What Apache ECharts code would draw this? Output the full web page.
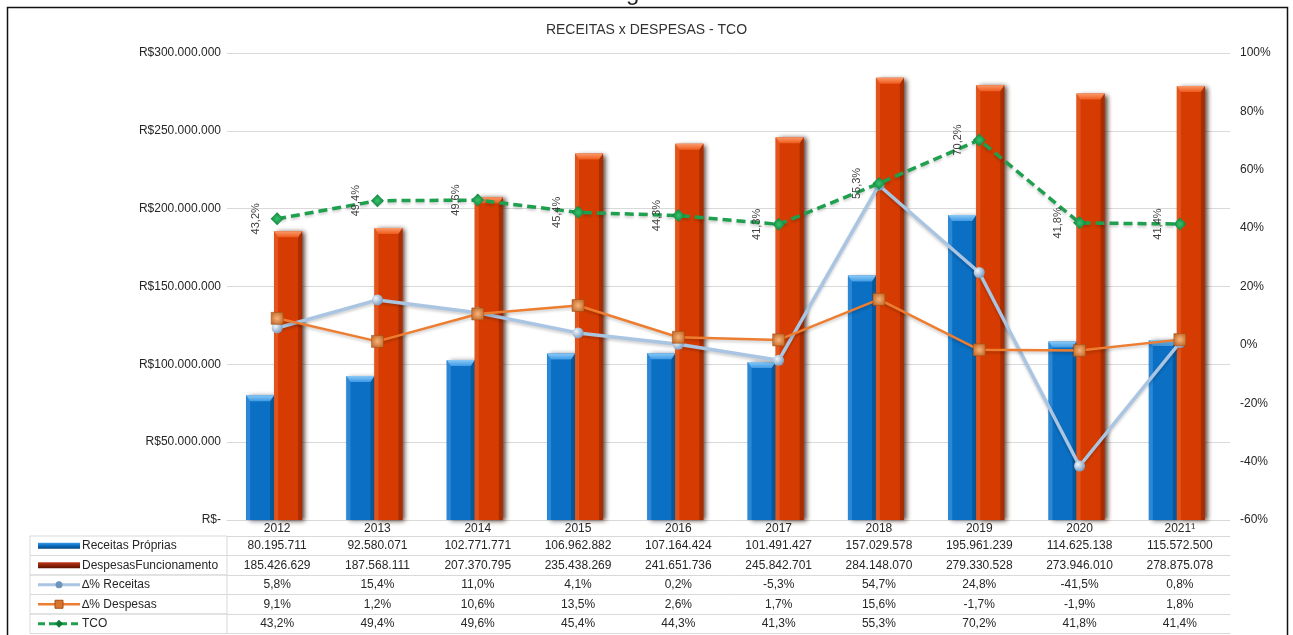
<!DOCTYPE html>
<html>
<head>
<meta charset="utf-8">
<title>Receitas x Despesas - TCO</title>
<script src="https://cdn.jsdelivr.net/npm/echarts@6/dist/echarts.min.js"></script>
<style>
html,body{margin:0;padding:0;background:#fff;}
#main{width:1293px;height:635px;}
</style>
</head>
<body>
<div id="main"></div>
<script>
var anos = ['2012', '2013', '2014', '2015', '2016', '2017', '2018', '2019', '2020', '2021\u00b9'];
var receitas = [80195711, 92580071, 102771771, 106962882, 107164424, 101491427, 157029578, 195961239, 114625138, 115572500];
var despesas = [185426629, 187568111, 207370795, 235438269, 241651736, 245842701, 284148070, 279330528, 273946010, 278875078];
var varReceitas = [5.8, 15.4, 11.0, 4.1, 0.2, -5.3, 54.7, 24.8, -41.5, 0.8];
var varDespesas = [9.1, 1.2, 10.6, 13.5, 2.6, 1.7, 15.6, -1.7, -1.9, 1.8];
var tco = [43.2, 49.4, 49.6, 45.4, 44.3, 41.3, 55.3, 70.2, 41.8, 41.4];
var nomes = ['Receitas Próprias', 'DespesasFuncionamento', '\u2206% Receitas', '\u2206% Despesas', 'TCO'];

var fonte = '"Liberation Sans", Arial, sans-serif';
var corTexto = '#262626';
var corGrade = '#d9d9d9';

function fmtNum(v) {
    return String(v).replace(/\B(?=(\d{3})+(?!\d))/g, '.');
}
function fmtPct(v) {
    return v.toFixed(1).replace('.', ',') + '%';
}

var myChart = echarts.init(document.getElementById('main'));

var gLeft = 227, gRight = 63, gTop = 53, gBottom = 115;
var headH = 16, rowH = 19.5;
var baseY = 635 - gBottom;

// linhas da tabela embaixo do gráfico (um eixo de categoria por linha)
var linhas = [
    receitas.map(fmtNum),
    despesas.map(fmtNum),
    varReceitas.map(fmtPct),
    varDespesas.map(fmtPct),
    tco.map(fmtPct)
];

var xAxes = [{
    type: 'category',
    data: anos,
    position: 'bottom',
    axisLine: { onZero: false, lineStyle: { color: corGrade } },
    axisTick: { length: headH, lineStyle: { color: corGrade } },
    axisLabel: { margin: 3, interval: 0, color: corTexto, fontSize: 12, fontFamily: fonte }
}];
linhas.forEach(function (l, i) {
    xAxes.push({
        type: 'category',
        data: l,
        position: 'bottom',
        offset: headH + i * rowH,
        axisLine: { onZero: false, lineStyle: { color: corGrade } },
        axisTick: { length: rowH, lineStyle: { color: corGrade } },
        axisLabel: { margin: 4, interval: 0, color: corTexto, fontSize: 12, fontFamily: fonte }
    });
});
xAxes.push({
    type: 'category',
    data: anos,
    position: 'bottom',
    offset: headH + 5 * rowH,
    axisLine: { onZero: false, lineStyle: { color: corGrade } },
    axisTick: { show: false },
    axisLabel: { show: false }
});

// coluna da esquerda da tabela (legenda)
var graficos = [];
nomes.forEach(function (n, i) {
    var top = baseY + headH + i * rowH;
    graficos.push({
        type: 'rect',
        shape: { x: 30, y: top, width: gLeft - 30, height: rowH },
        style: { fill: 'none', stroke: corGrade, lineWidth: 1 }
    });
    graficos.push({
        type: 'text',
        x: 82, y: top + rowH / 2,
        style: { text: n, fill: corTexto, font: '12px ' + fonte, verticalAlign: 'middle' }
    });
});
function yRow(i) { return baseY + headH + i * rowH + rowH / 2; }
graficos.push(
    { type: 'rect', shape: { x: 38, y: yRow(0) - 3, width: 42, height: 6 },
      style: { fill: new echarts.graphic.LinearGradient(0, 0, 0, 1, [{ offset: 0, color: '#3d9be9' }, { offset: 0.5, color: '#0a6cc0' }, { offset: 1, color: '#06467e' }]) } },
    { type: 'rect', shape: { x: 38, y: yRow(1) - 3, width: 42, height: 6 },
      style: { fill: new echarts.graphic.LinearGradient(0, 0, 0, 1, [{ offset: 0, color: '#c0391b' }, { offset: 0.5, color: '#8e2308' }, { offset: 1, color: '#5a1200' }]) } },
    { type: 'line', shape: { x1: 38, y1: yRow(2), x2: 80, y2: yRow(2) }, style: { stroke: '#a9c5e2', lineWidth: 3 } },
    { type: 'circle', shape: { cx: 59, cy: yRow(2), r: 3.5 }, style: { fill: '#6f93ba' } },
    { type: 'line', shape: { x1: 38, y1: yRow(3), x2: 80, y2: yRow(3) }, style: { stroke: '#ed7d31', lineWidth: 2.5 } },
    { type: 'rect', shape: { x: 55, y: yRow(3) - 4, width: 8, height: 8 }, style: { fill: '#d8762d', stroke: '#a64f10', lineWidth: 1 } },
    { type: 'line', shape: { x1: 38, y1: yRow(4), x2: 80, y2: yRow(4) }, style: { stroke: '#1fa04f', lineWidth: 3, lineDash: [7, 4] } },
    { type: 'polygon', shape: { points: [[59, yRow(4) - 4], [63, yRow(4)], [59, yRow(4) + 4], [55, yRow(4)]] }, style: { fill: '#0b7a37' } },
    // moldura
    { type: 'rect', shape: { x: 7.5, y: 7.5, width: 1280, height: 660 }, style: { fill: 'none', stroke: '#111', lineWidth: 1.5 } },
    // resto do título do documento cortado acima
    { type: 'text', left: 626, top: -19, style: { text: 'g', fill: '#222', font: '24px ' + fonte } }
);

// barra com chanfro (estilo 3D do Excel)
function barra3d(desloc, c) {
    return function (params, api) {
        var i = api.value(0);
        var p = api.coord([i, api.value(1)]);
        var b0 = api.coord([i, 0]);
        var w = 28, e = 4;
        var x = p[0] + desloc, y = p[1], yb = b0[1];
        return {
            type: 'group',
            children: [{
                type: 'rect',
                shape: { x: x, y: y, width: w, height: yb - y },
                style: {
                    fill: c.base,
                    shadowColor: c.sombra, shadowBlur: 5, shadowOffsetX: 3, shadowOffsetY: 1
                }
            }, {
                type: 'polygon',
                shape: { points: [[x, y], [x + e, y + e], [x + e, yb], [x, yb]] },
                style: { fill: c.esq }
            }, {
                type: 'polygon',
                shape: { points: [[x + w, y], [x + w - e, y + e], [x + w - e, yb], [x + w, yb]] },
                style: { fill: c.dir }
            }, {
                type: 'polygon',
                shape: { points: [[x, y], [x + w, y], [x + w - e, y + e + 2], [x + e, y + e + 2]] },
                style: { fill: new echarts.graphic.LinearGradient(0, 0, 0, 1, [{ offset: 0, color: c.topo1 }, { offset: 1, color: c.topo2 }]) }
            }]
        };
    };
}

var corAzul = { base: '#0b6fc3', esq: '#2a88d6', dir: '#075799', topo1: '#8ccaf7', topo2: '#3f9ae4', sombra: 'rgba(10,20,40,0.6)' };
var corVerm = { base: '#d63c01', esq: '#e2541c', dir: '#a82d00', topo1: '#fb9a6a', topo2: '#ee5b1d', sombra: 'rgba(40,10,0,0.8)' };

var option = {
    backgroundColor: '#fff',
    animation: false,
    textStyle: { fontFamily: fonte },
    title: {
        text: 'RECEITAS x DESPESAS - TCO',
        left: 'center',
        top: 18,
        textStyle: { fontWeight: 'normal', fontSize: 14, color: '#333', fontFamily: fonte }
    },
    grid: { left: gLeft, right: gRight, top: gTop, bottom: gBottom },
    xAxis: xAxes,
    yAxis: [{
        type: 'value',
        min: 0, max: 300000000, interval: 50000000,
        axisLine: { show: false },
        axisTick: { show: false },
        splitLine: { lineStyle: { color: corGrade } },
        axisLabel: {
            margin: 6, color: corTexto, fontSize: 12, fontFamily: fonte,
            formatter: function (v) { return v === 0 ? 'R$-' : 'R$' + fmtNum(v); }
        }
    }, {
        type: 'value',
        min: -60, max: 100, interval: 20,
        axisLine: { show: false },
        axisTick: { show: false },
        splitLine: { show: false },
        axisLabel: {
            margin: 10, color: corTexto, fontSize: 12, fontFamily: fonte,
            formatter: '{value}%'
        }
    }],
    series: [{
        name: nomes[0],
        type: 'custom',
        renderItem: barra3d(-31, corAzul),
        data: receitas.map(function (v, i) { return [i, v]; }),
        encode: { x: 0, y: 1 },
        z: 2
    }, {
        name: nomes[1],
        type: 'custom',
        renderItem: barra3d(-3, corVerm),
        data: despesas.map(function (v, i) { return [i, v]; }),
        encode: { x: 0, y: 1 },
        z: 2
    }, {
        name: nomes[2],
        type: 'line',
        yAxisIndex: 1,
        data: varReceitas,
        z: 3,
        symbol: 'circle',
        symbolSize: 11,
        lineStyle: { color: '#a9c5e2', width: 3.5, shadowColor: 'rgba(0,0,0,0.2)', shadowBlur: 3, shadowOffsetY: 2 },
        itemStyle: {
            color: { type: 'radial', x: 0.35, y: 0.35, r: 0.75, colorStops: [{ offset: 0, color: '#f0f5fb' }, { offset: 1, color: '#6f93ba' }] },
            borderWidth: 0
        }
    }, {
        name: nomes[3],
        type: 'line',
        yAxisIndex: 1,
        data: varDespesas,
        z: 4,
        symbol: 'rect',
        symbolSize: 12,
        lineStyle: { color: '#ed7d31', width: 2.5, shadowColor: 'rgba(0,0,0,0.2)', shadowBlur: 3, shadowOffsetY: 2 },
        itemStyle: {
            color: { type: 'radial', x: 0.5, y: 0.5, r: 0.7, colorStops: [{ offset: 0, color: '#f6b47c' }, { offset: 1, color: '#b85a18' }] },
            borderColor: '#9e4a10', borderWidth: 0.5
        }
    }, {
        name: nomes[4],
        type: 'line',
        yAxisIndex: 1,
        data: tco,
        z: 5,
        symbol: 'diamond',
        symbolSize: 13,
        lineStyle: { color: '#1fa04f', width: 3.5, type: [9, 5], shadowColor: 'rgba(0,0,0,0.2)', shadowBlur: 3, shadowOffsetY: 2 },
        itemStyle: {
            color: { type: 'radial', x: 0.5, y: 0.5, r: 0.7, colorStops: [{ offset: 0, color: '#35c46b' }, { offset: 1, color: '#06662c' }] },
            borderWidth: 0
        },
        label: {
            show: true,
            position: 'left',
            distance: 15,
            rotate: 90,
            align: 'center',
            verticalAlign: 'middle',
            color: '#404040',
            fontSize: 11,
            fontFamily: fonte,
            formatter: function (p) { return fmtPct(p.value); }
        }
    }],
    graphic: graficos
};

myChart.setOption(option);
</script>
</body>
</html>
